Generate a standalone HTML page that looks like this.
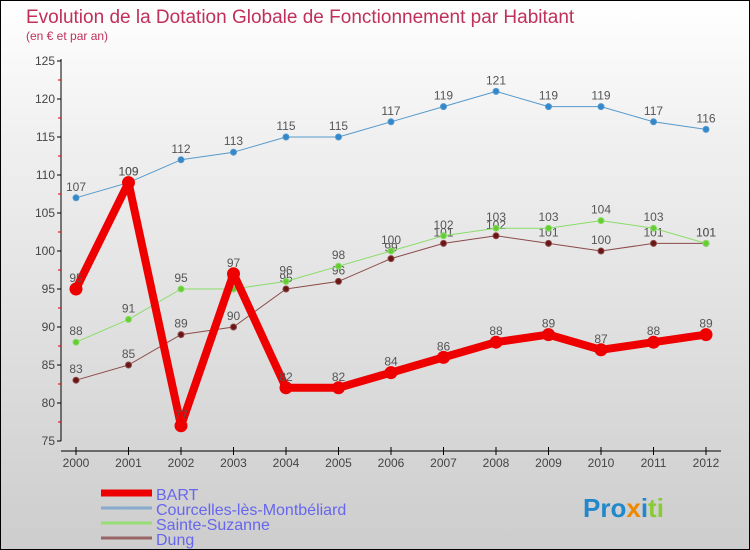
<!DOCTYPE html>
<html><head><meta charset="utf-8"><style>
body{margin:0;width:750px;height:550px;overflow:hidden;font-family:"Liberation Sans",sans-serif}
#c{position:absolute;left:0;top:0;width:748px;height:548px;border:1px solid #000;background:linear-gradient(#fff,#f0f0f0 25%,#cdcdcd)}
</style></head><body>
<div id="c">
<svg id="s" width="748" height="548" style="position:absolute;left:0;top:0">
<text x="25" y="22" font-size="19" fill="#c0305a">Evolution de la Dotation Globale de Fonctionnement par Habitant</text>
<text x="25" y="39" font-size="12" fill="#c0305a">(en € et par an)</text>
</svg>
</div>
<script>
const years=[2000,2001,2002,2003,2004,2005,2006,2007,2008,2009,2010,2011,2012];
const bart=[95,109,77,97,82,82,84,86,88,89,87,88,89];
const courcelles=[107,109,112,113,115,115,117,119,121,119,119,117,116];
const sainte=[88,91,95,95,96,98,100,102,103,103,104,103,101];
const dung=[83,85,89,90,95,96,99,101,102,101,100,101,101];
const yTicks=[75,80,85,90,95,100,105,110,115,120,125];
const svg=document.getElementById('s');
const NS='http://www.w3.org/2000/svg';
const X=i=>75+i*52.5;
const Y=v=>60+(125-v)*7.6;
function mk(t,a){const e=document.createElementNS(NS,t);for(const k in a)e.setAttribute(k,a[k]);svg.appendChild(e);return e;}
let ax=mk('line',{x1:60,y1:58,x2:60,y2:440,stroke:'#000','stroke-width':1});


let bx=mk('line',{x1:60,y1:450,x2:720,y2:450,stroke:'#000','stroke-width':1});


yTicks.forEach(v=>{
 mk('line',{x1:56,y1:Y(v),x2:60,y2:Y(v),stroke:'#000'});
 if(v<125) mk('line',{x1:57,y1:Y(v+2.5),x2:60,y2:Y(v+2.5),stroke:'#d00'});
 const t=mk('text',{x:54,y:Y(v)+4,'font-size':12,fill:'#444','text-anchor':'end'});
 t.textContent=v;
 
 
});
years.forEach((y,i)=>{
 mk('line',{x1:X(i),y1:446,x2:X(i),y2:454,stroke:'#000'});
 const t=mk('text',{x:X(i),y:466,'font-size':12,fill:'#444','text-anchor':'middle'});
 t.textContent=y;
 
 
});
function series(d,col,dot,w,r,name){
 const p=mk('polyline',{points:d.map((v,i)=>X(i)+','+Y(v)).join(' '),fill:'none',stroke:col,'stroke-width':w,'stroke-linejoin':'round'});
 
 
 d.forEach((v,i)=>{
  const c=mk('circle',{cx:X(i),cy:Y(v),r:r,fill:dot,stroke:col,'stroke-width':1});
  
  
  const t=mk('text',{x:X(i),y:Y(v)-7,'font-size':12,fill:'#555','text-anchor':'middle'});
  t.textContent=v;
  
  
 });
}
series(dung,'#8b4a4a','#6b1515',1,3,'dung');
series(sainte,'#88dd66','#66cc33',1,3,'sainte-suzanne');
series(courcelles,'#5599cc','#3388cc',1,3,'courcelles');
series(bart,'#ee0000','#ee0000',8,6,'bart');
const legend=[['BART','#ee0000',7],['Courcelles-lès-Montbéliard','#88aacc',3],['Sainte-Suzanne','#99dd77',3],['Dung','#996666',3]];
legend.forEach((l,i)=>{
 const y=492+i*15;
 const ln=mk('line',{x1:100,y1:y,x2:151,y2:y,stroke:l[1],'stroke-width':l[2]});
 
 
 const t=mk('text',{x:155,y:y+7,'font-size':16,fill:'#6666ee'});
 t.textContent=l[0];
 
 
});
const logo=mk('text',{x:582,y:516,'font-size':26,'font-weight':'bold',fill:'#3388cc'});
logo.innerHTML='<tspan fill="#2288cc">Pro</tspan><tspan fill="#ee8800">x</tspan><tspan fill="#2288cc">i</tspan><tspan fill="#88cc33">ti</tspan>';


</script>
</body></html>
